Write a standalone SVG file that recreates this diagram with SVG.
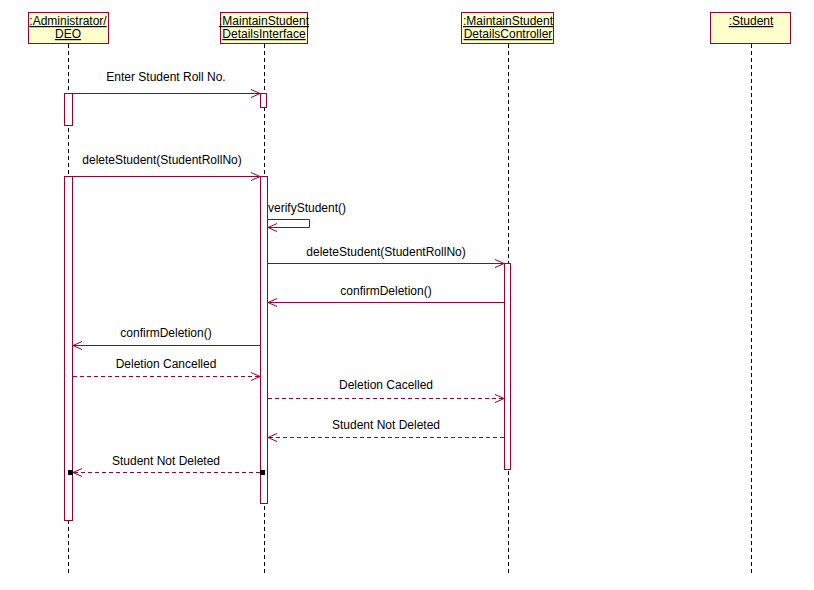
<svg xmlns="http://www.w3.org/2000/svg" width="814" height="590" viewBox="0 0 814 590">
<style>
.hdr{fill:#ffffcc;stroke:#990033;stroke-width:1}
.ht{font-family:"Liberation Sans",Arial,sans-serif;font-size:12px;fill:#000;text-anchor:middle;text-decoration:underline}
.life{stroke:#000;stroke-width:1;stroke-dasharray:4 3;fill:none}
.act{fill:#fff;stroke:#990033;stroke-width:1}
.msg{stroke:#990033;stroke-width:1;fill:none;marker-end:url(#arr)}
.dash{stroke-dasharray:4 3}
.lbl{font-family:"Liberation Sans",Arial,sans-serif;font-size:12px;fill:#000;text-anchor:middle}
</style>
<defs>
<marker id="arr" markerUnits="userSpaceOnUse" markerWidth="12" markerHeight="12" refX="10" refY="5" orient="auto" viewBox="0 0 12 10">
<path d="M1,1 L10,5 L1,9" fill="none" stroke="#990033" stroke-width="1"/>
</marker>
</defs>
<rect width="814" height="590" fill="#fff"/>
<g id="lifelines">
<line class="life" x1="68.5" y1="44" x2="68.5" y2="576"/>
<line class="life" x1="264.5" y1="44" x2="264.5" y2="576"/>
<line class="life" x1="508.5" y1="44" x2="508.5" y2="576"/>
<line class="life" x1="751.5" y1="44" x2="751.5" y2="576"/>
</g>
<g id="node-admin">
<rect class="hdr" x="28.5" y="12.5" width="80" height="31"/>
<text class="ht" x="68" y="25">:Administrator/</text>
<text class="ht" x="68" y="38">DEO</text>
</g>
<g id="node-interface">
<rect class="hdr" x="220.5" y="12.5" width="87" height="31"/>
<text class="ht" x="264" y="25">:MaintainStudent</text>
<text class="ht" x="264" y="38">DetailsInterface</text>
</g>
<g id="node-controller">
<rect class="hdr" x="461.5" y="12.5" width="92" height="31"/>
<text class="ht" x="508" y="25">:MaintainStudent</text>
<text class="ht" x="508" y="38">DetailsController</text>
</g>
<g id="node-student">
<rect class="hdr" x="710.5" y="12.5" width="80" height="31"/>
<text class="ht" x="751" y="25">:Student</text>
</g>
<g id="activations">
<rect class="act" x="64.5" y="93.5" width="8" height="32"/>
<rect class="act" x="260.5" y="93.5" width="6" height="14"/>
<rect class="act" x="64.5" y="176.5" width="8" height="344"/>
<rect class="act" x="260.5" y="176.5" width="7" height="327"/>
<rect class="act" x="504.5" y="263.5" width="6" height="206"/>
</g>
<g id="connectors">
<line class="msg" x1="73" y1="93.5" x2="260" y2="93.5"/>
<text class="lbl" x="166" y="81">Enter Student Roll No.</text>
<line class="msg" x1="73" y1="176.5" x2="260" y2="176.5"/>
<text class="lbl" x="162" y="164">deleteStudent(StudentRollNo)</text>
<polyline class="msg" points="268,219.5 309.5,219.5 309.5,227.5 268,227.5"/>
<text class="lbl" x="268" y="212" style="text-anchor:start">verifyStudent()</text>
<line class="msg" x1="268" y1="263.5" x2="504" y2="263.5"/>
<text class="lbl" x="386" y="256">deleteStudent(StudentRollNo)</text>
<line class="msg" x1="504" y1="302.5" x2="268" y2="302.5"/>
<text class="lbl" x="386" y="295">confirmDeletion()</text>
<line class="msg" x1="260" y1="345.5" x2="73" y2="345.5"/>
<text class="lbl" x="166" y="337">confirmDeletion()</text>
<line class="msg dash" x1="73" y1="376.5" x2="260" y2="376.5"/>
<text class="lbl" x="166" y="368">Deletion Cancelled</text>
<line class="msg dash" x1="268" y1="398.5" x2="504" y2="398.5"/>
<text class="lbl" x="386" y="389">Deletion Cacelled</text>
<line class="msg dash" x1="504" y1="437.5" x2="268" y2="437.5"/>
<text class="lbl" x="386" y="429">Student Not Deleted</text>
<line class="msg dash" x1="260" y1="472.5" x2="73" y2="472.5"/>
<text class="lbl" x="166" y="465">Student Not Deleted</text>
<rect x="68" y="470" width="5" height="5" fill="#000"/>
<rect x="260" y="470" width="5" height="5" fill="#000"/>
</g>
</svg>
